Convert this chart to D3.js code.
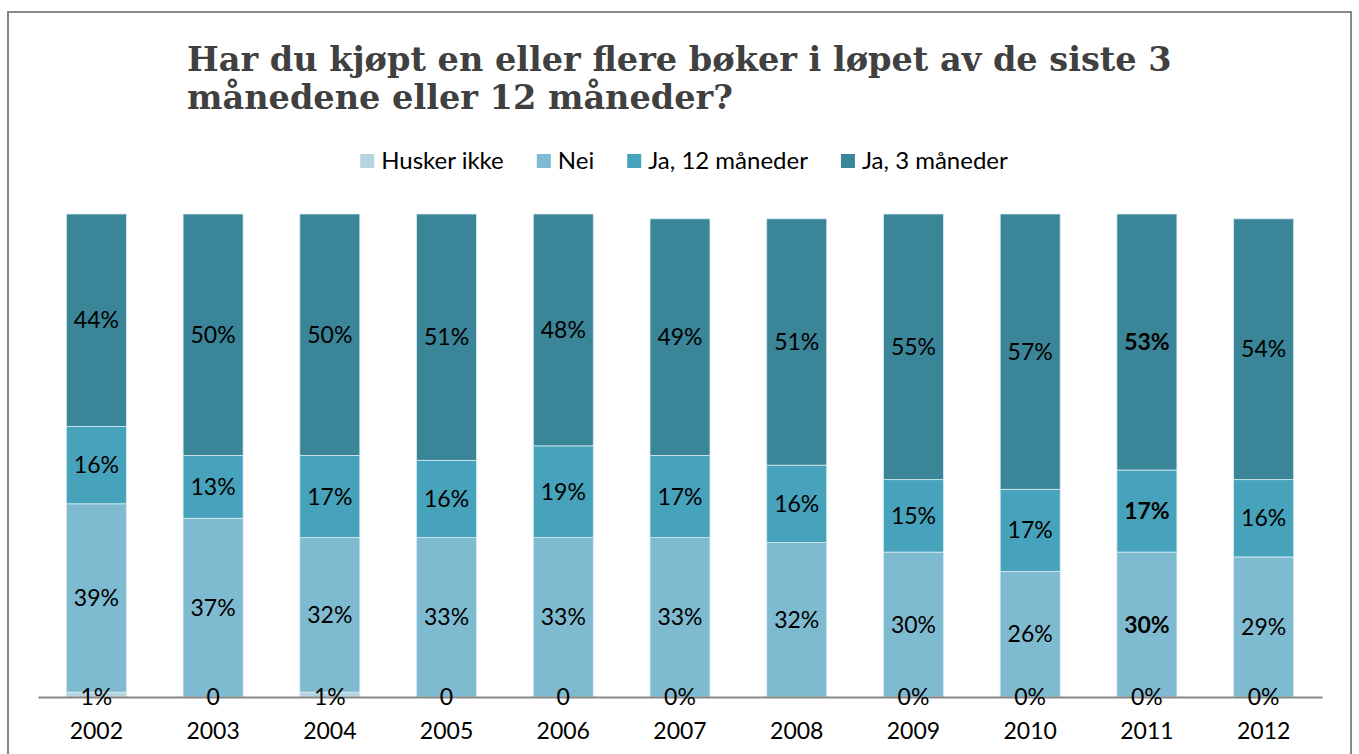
<!DOCTYPE html>
<html>
<head>
<meta charset="utf-8">
<script src="https://cdn.jsdelivr.net/npm/d3@7"></script>
<style>
  body { margin: 0; background: #fff; }
  svg { display: block; }
</style>
</head>
<body>
<div id="chart"></div>
<script>
// data
var years = ["2002", "2003", "2004", "2005", "2006", "2007", "2008", "2009", "2010", "2011", "2012"];
var huskerIkke = [1, 0, 1, 0, 0, 0, 0, 0, 0, 0, 0];
var nei = [39, 37, 32, 33, 33, 33, 32, 30, 26, 30, 29];
var ja12 = [16, 13, 17, 16, 19, 17, 16, 15, 17, 17, 16];
var ja3 = [44, 50, 50, 51, 48, 49, 51, 55, 57, 53, 54];
// the small labels are not written the same way every year
var huskerLabels = ["1%", "0", "1%", "0", "0", "0%", "", "0%", "0%", "0%", "0%"];
var seriesNames = ["Husker ikke", "Nei", "Ja, 12 måneder", "Ja, 3 måneder"];
var boldYear = "2011";

var colors = ["#b5d5e0", "#7fbbd0", "#47a2bb", "#3a8598"];

var W = 1359, H = 754;
var svg = d3.select("#chart").append("svg")
    .attr("width", W)
    .attr("height", H);

// frame
svg.append("rect")
    .attr("x", 8).attr("y", 12)
    .attr("width", 1343).attr("height", 760)
    .attr("fill", "none")
    .attr("stroke", "#888")
    .attr("stroke-width", 2);

// title
var title = svg.append("text")
    .attr("x", 187)
    .attr("fill", "#404040")
    .style("font-family", "'DejaVu Serif', serif")
    .style("font-weight", "bold")
    .style("font-size", "32px");
var t1 = title.append("tspan").attr("x", 187).attr("y", 71)
    .text("Har du kjøpt en eller flere bøker i løpet av de siste 3");
title.append("tspan").attr("x", 187).attr("y", 109)
    .text("månedene eller 12 måneder?");
// fit the first line to the width it has in the picture
var fs = 32 * 985 / t1.node().getComputedTextLength();
title.style("font-size", fs + "px");

var rows = years.map(function (y, i) {
    return { year: y, "Husker ikke": huskerIkke[i], "Nei": nei[i],
             "Ja, 12 måneder": ja12[i], "Ja, 3 måneder": ja3[i], i: i };
});
var stacked = d3.stack().keys(seriesNames)(rows);

var x = d3.scaleBand()
    .domain(years)
    .range([38, 1322])
    .paddingInner(0.486)
    .paddingOuter(0.243);

var y = d3.scaleLinear()
    .domain([0, 100])
    .range([697, 214]);

var font = "Lato, 'Open Sans', sans-serif";

var layer = svg.append("g").selectAll("g")
    .data(stacked)
    .join("g")
        .attr("fill", function (d, k) { return colors[k]; });

layer.selectAll("rect")
    .data(function (d) { return d; })
    .join("rect")
        .attr("x", function (d) { return x(d.data.year); })
        .attr("y", function (d) { return y(d[1]); })
        .attr("width", x.bandwidth())
        .attr("height", function (d) { return y(d[0]) - y(d[1]); })
        .attr("stroke", "#d8ebf1")
        .attr("stroke-width", 0.8);

// axis
var xAxis = svg.append("g")
    .attr("transform", "translate(0,697)")
    .call(d3.axisBottom(x).tickSize(0).tickSizeOuter(0));
xAxis.select(".domain").attr("stroke", "#888").attr("stroke-width", 2);
xAxis.selectAll("text")
    .attr("y", 34)
    .attr("dy", "0.35em")
    .attr("fill", "#000")
    .style("font-family", font)
    .style("font-size", "23px");

// data labels, on top of bars and axis
var labels = svg.append("g");
stacked.forEach(function (s, k) {
    labels.append("g").selectAll("text")
        .data(s)
        .join("text")
            .attr("x", function (d) { return x(d.data.year) + x.bandwidth() / 2; })
            .attr("y", function (d) {
                return k === 0 ? y(0) : (y(d[0]) + y(d[1])) / 2;
            })
            .attr("dy", "0.35em")
            .attr("text-anchor", "middle")
            .attr("fill", "#000")
            .style("font-family", font)
            .style("font-size", "23px")
            .style("font-weight", function (d) {
                return (d.data.year === boldYear && k > 0) ? "bold" : "normal";
            })
            .text(function (d) {
                if (k === 0) return huskerLabels[d.data.i];
                return (d[1] - d[0]) + "%";
            });
});

// legend
var legend = svg.append("g");
var items = legend.selectAll("g")
    .data(seriesNames)
    .join("g");
items.append("rect")
    .attr("width", 14).attr("height", 14)
    .attr("y", -7)
    .attr("fill", function (d, k) { return colors[k]; });
items.append("text")
    .attr("x", 21)
    .attr("dy", "0.35em")
    .attr("fill", "#000")
    .style("font-family", font)
    .style("font-size", "24px")
    .text(function (d) { return d; });

var pos = 0;
items.each(function () {
    var g = d3.select(this);
    g.attr("transform", "translate(" + pos + ",0)");
    pos += 21 + g.select("text").node().getComputedTextLength() + 33;
});
var total = pos - 33;
legend.attr("transform", "translate(" + (684 - total / 2) + ",161)");
</script>
</body>
</html>
